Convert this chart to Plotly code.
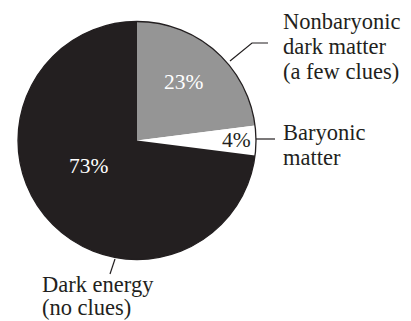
import plotly.graph_objects as go

# ---- data ----
components = ["Nonbaryonic dark matter", "Baryonic matter", "Dark energy"]
percent = [23, 4, 73]
slice_colors = ["#959595", "#ffffff", "#231f20"]
pct_text_colors = ["#ffffff", "#231f20", "#ffffff"]
label_lines = [
    ["Nonbaryonic", "dark matter", "(a few clues)"],
    ["Baryonic", "matter"],
    ["Dark energy", "(no clues)"],
]

W, H = 411, 321
FONT = "Liberation Serif"
INK = "#231f20"
FS = 22.5

# pie placement in pixels
cx, cy, R = 137, 140.5, 119
dom_x = [(cx - R) / W, (cx + R) / W]
dom_y = [1 - (cy + R) / H, 1 - (cy - R) / H]

fig = go.Figure()
fig.add_trace(go.Pie(
    labels=components, values=percent, sort=False, direction="clockwise",
    rotation=0, marker=dict(colors=slice_colors, line=dict(width=0)),
    textinfo="none", hoverinfo="label+value", showlegend=False,
    domain=dict(x=dom_x, y=dom_y),
))
# outline circle
fig.add_trace(go.Pie(
    labels=["outline"], values=[1], sort=False,
    marker=dict(colors=["rgba(0,0,0,0)"], line=dict(color=INK, width=1.3)),
    textinfo="none", hoverinfo="skip", showlegend=False,
    domain=dict(x=dom_x, y=dom_y),
))

def px(x, y):
    return x / W, 1 - y / H

annotations = []
# percentages inside slices
pct_pos = [(184, 82), (237, 140), (89, 166)]
for p, (x, y), c in zip(percent, pct_pos, pct_text_colors):
    ax, ay = px(x, y)
    annotations.append(dict(x=ax, y=ay, xref="paper", yref="paper", text=f"{p}%",
                            showarrow=False, font=dict(family=FONT, size=21.5, color=c),
                            xanchor="center", yanchor="middle"))
# outside labels: (left x, first baseline, line spacing)
lab_pos = [(282, 28, 25), (282, 139, 25.5), (41, 291, 23)]
for lines, (x, b0, sp) in zip(label_lines, lab_pos):
    for i, t in enumerate(lines):
        base = b0 + i * sp
        ax, ay = px(x, base - 0.29 * FS)
        annotations.append(dict(x=ax, y=ay, xref="paper", yref="paper", text=t,
                                showarrow=False, align="left", borderpad=0,
                                font=dict(family=FONT, size=FS, color=INK),
                                xanchor="left", yanchor="middle"))

shapes = []
leaders = [
    [(230, 61), (252, 43), (268, 43)],
    [(256, 139), (275, 139)],
    [(115, 259), (110, 274)],
]
for pts in leaders:
    path = "M " + " L ".join(f"{x/W},{1-y/H}" for x, y in pts)
    shapes.append(dict(type="path", path=path, xref="paper", yref="paper",
                       line=dict(color=INK, width=1.2)))

fig.update_layout(
    width=W, height=H, margin=dict(l=0, r=0, t=0, b=0),
    paper_bgcolor="white", plot_bgcolor="white",
    annotations=annotations, shapes=shapes,
)
fig.write_html("out.html", config={"displayModeBar": False},
               post_script="document.body.style.margin='0px';document.body.style.overflow='hidden';")
